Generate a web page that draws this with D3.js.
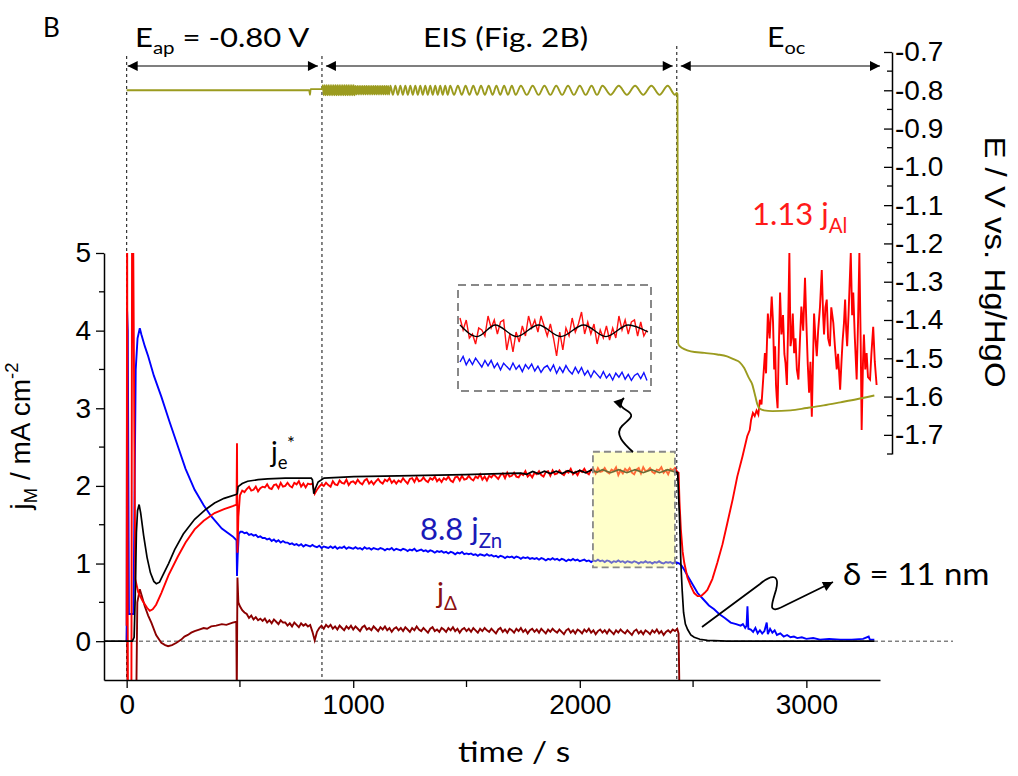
<!DOCTYPE html>
<html><head><meta charset="utf-8">
<script src="https://cdn.jsdelivr.net/npm/d3@7"></script>
<style>
html,body{margin:0;padding:0;background:#fff;}
svg{display:block;}
text{font-family:"Liberation Sans",Arial,sans-serif;}
.cal{font-family:Lato,"Open Sans",sans-serif;}
</style></head><body>
<svg id="chart" width="1018" height="776"></svg>
<script>
// ---------------- DATA ----------------
const xTicks = [0, 1000, 2000, 3000];
const xMinor = [500, 1500, 2500];
const yTicks = [0, 1, 2, 3, 4, 5];
const yMinor = [0.5, 1.5, 2.5, 3.5, 4.5];
const eTicks = [-0.7, -0.8, -0.9, -1.0, -1.1, -1.2, -1.3, -1.4, -1.5, -1.6, -1.7];
const eMinor = [-0.75, -0.85, -0.95, -1.05, -1.15, -1.25, -1.35, -1.45, -1.55, -1.65, -1.75];
const phaseBounds = [0, 862, 2428, 3325];   // E_ap | EIS | E_oc

// j_e* (black)
const jeEarly = [[-100,0],[25,0],[33,0.05],[38,0.6],[43,1.4],[48,1.68],[55,1.76],[62,1.65],[75,1.36],[90,1.08],[105,0.88],[120,0.77],[131,0.74],[145,0.76],[160,0.85],[185,1.0],[212,1.18],[250,1.38],[300,1.57],[350,1.7],[388,1.78],[430,1.84],[483,1.89],[488,1.9],[492,1.99],[510,2.03],[534,2.06],[580,2.08],[622,2.09],[700,2.1],[815,2.1],[820,2.08],[826,1.9],[832,1.96],[845,2.05],[871,2.1],[1003,2.12],[1200,2.13],[1494,2.145],[1740,2.165]];
const jeEis = [[1766,2.15],[1792,2.185],[1818,2.155],[1844,2.19],[1870,2.16],[1896,2.19],[1922,2.16],[1948,2.195],[1974,2.165],[2000,2.2],[2026,2.17],[2052,2.205],[2076,2.175],[2100,2.21],[2136,2.17],[2172,2.21],[2208,2.17],[2244,2.21],[2280,2.17],[2316,2.21],[2352,2.17],[2388,2.21],[2420,2.18]];
const jeLate = [[2432,2.17],[2440,1.6],[2446,1.01],[2452,0.65],[2458,0.37],[2466,0.22],[2476,0.15],[2490,0.08],[2505,0.05],[2530,0.025],[2563,0.01],[2650,0],[3300,0]];

// 1.13 j_Al (red)
const alEarly = [[0,0.2],[2,5.6],[5,-0.7],[21,-0.7],[24,5.6],[28,5.6],[38,0.8],[51,0.63],[70,0.52],[90,0.43],[102,0.39],[115,0.41],[130,0.47],[153,0.62],[185,0.85],[226,1.09],[260,1.27],[300,1.44],[340,1.55],[388,1.65],[430,1.7],[468,1.74],[485,1.76],[487,2.55],[489,1.14],[493,1.6],[500,1.88]];
const alEapT0 = 510, alEapDt = 10;
const alEap = [1.94,1.92,1.96,1.99,1.94,1.95,1.99,1.93,1.97,1.99,
1.98,2.02,1.97,1.96,2.01,2.02,1.97,2.04,1.99,2.00,
2.04,2.00,1.98,2.04,2.02,2.06,1.99,2.03,1.98,2.03,
2.02,2.03,1.90,1.95,1.99,2.02,2.00,2.04,2.01,1.99,
2.06,2.02,2.01,2.07,2.04,2.03,2.08,2.01,2.05,2.06,
2.03,2.08,2.04,2.02,2.07,2.09,2.03,2.06,2.02,2.06,
2.09,2.05,2.03,2.08,2.06,2.10,2.04,2.07,2.03,2.07,
2.05,2.10,2.06,2.03,2.09,2.10,2.05,2.11,2.06,2.07,
2.11,2.07,2.05,2.10,2.08,2.12,2.06,2.09,2.05,2.10,
2.08,2.12,2.07,2.05,2.11,2.12,2.07,2.13,2.08,2.09,
2.13,2.09,2.07,2.12,2.10,2.15,2.08,2.12,2.07,2.13,
2.11,2.15,2.12,2.09,2.14,2.16,2.10,2.17,2.12,2.13,
2.17,2.12,2.11,2.16,2.14,2.19,2.12,2.15,2.11,2.17,
2.15,2.19,2.14,2.12,2.18,2.19,2.13,2.20,2.15,2.16,
2.20,2.16,2.14,2.19,2.17,2.22,2.15,2.18,2.14,2.20,
2.18,2.22,2.17,2.15,2.21,2.22,2.16,2.23,2.18,2.19,
2.23,2.18,2.16,2.21,2.19,2.24,2.14,2.20,2.16,2.22,
2.19,2.23,2.17,2.15,2.21,2.23,2.16,2.24,2.19,2.20,
2.23,2.18,2.16,2.21,2.20,2.24,2.17,2.20,2.15,2.22,
2.20,2.23,2.18];
const alDrop = [[2436,2.17],[2440,1.8],[2446,1.44],[2454,1.15],[2461,1.01],[2475,0.82],[2490,0.71],[2505,0.62],[2520,0.58],[2535,0.58],[2550,0.62],[2563,0.66],[2585,0.8],[2607,1.01],[2630,1.25],[2651,1.52],[2675,1.83],[2695,2.12],[2718,2.38],[2739,2.64],[2750,2.72],[2756,2.85]];
const alOcp = [[2764,2.94],[2772,2.9],[2780,2.97],[2788,2.92],[2795,3.11],[2802,3.05],[2810,3.4],[2817,3.71],[2822,3.45],[2830,4.22],[2838,3.9],[2847,4.44],[2853,4.1],[2858,3.5],[2862,3.8],[2866,3.3],[2869,3.15],[2873,3.0],[2877,3.6],[2884,4.49],[2890,3.95],[2897,4.2],[2903,3.7],[2908,3.58],[2914,3.3],[2919,4.0],[2925,5.0],[2930,3.8],[2935,3.9],[2940,4.22],[2946,3.71],[2952,3.9],[2958,3.5],[2965,3.37],[2972,3.9],[2978,4.31],[2986,4.0],[2994,4.68],[3000,4.1],[3006,3.58],[3012,3.2],[3018,3.6],[3024,2.89],[3030,3.7],[3034,4.22],[3040,3.9],[3046,3.67],[3052,4.0],[3060,4.3],[3068,4.78],[3074,4.2],[3078,3.95],[3084,4.3],[3090,4.4],[3096,3.9],[3104,3.8],[3110,4.3],[3119,4.1],[3126,3.8],[3134,3.5],[3140,3.7],[3149,3.24],[3155,3.6],[3160,3.87],[3166,4.1],[3171,4.4],[3176,4.0],[3180,3.8],[3186,4.2],[3196,5.0],[3202,4.2],[3207,4.49],[3214,3.9],[3222,3.37],[3228,4.1],[3234,5.0],[3240,3.8],[3244,2.72],[3250,3.6],[3254,3.95],[3260,3.5],[3266,3.71],[3272,3.4],[3281,3.37],[3287,3.7],[3295,4.05],[3302,3.6],[3310,3.3]];

// 8.8 j_Zn (blue)
const znEarly = [[0,0],[2,4.25],[5,4.0],[10,0.35],[30,0.35],[40,3.5],[48,3.9],[58,4.03],[65,3.95],[80,3.8],[95,3.67],[120,3.42],[153,3.15],[190,2.82],[226,2.51],[260,2.22],[300,1.95],[340,1.75],[373,1.61],[420,1.45],[468,1.35],[485,1.3],[487,0.84],[490,1.1],[495,1.38],[502,1.41]];
const znEapT0 = 510, znEapDt = 10;
const znEap = [1.41,1.39,1.40,1.37,1.38,1.36,1.37,1.34,1.35,1.33,
1.33,1.31,1.32,1.29,1.31,1.28,1.30,1.27,1.29,1.27,
1.27,1.25,1.26,1.24,1.25,1.23,1.25,1.22,1.24,1.23,
1.22,1.24,1.22,1.21,1.23,1.20,1.22,1.21,1.20,1.22,
1.20,1.22,1.19,1.21,1.20,1.22,1.19,1.21,1.20,1.19,
1.21,1.19,1.20,1.18,1.21,1.19,1.20,1.18,1.20,1.19,
1.18,1.20,1.19,1.17,1.19,1.18,1.20,1.17,1.19,1.18,
1.17,1.19,1.18,1.16,1.18,1.17,1.19,1.16,1.17,1.18,
1.16,1.17,1.15,1.17,1.16,1.14,1.16,1.15,1.16,1.14,
1.15,1.13,1.15,1.14,1.12,1.14,1.13,1.15,1.12,1.13,
1.12,1.13,1.11,1.12,1.10,1.12,1.11,1.10,1.12,1.10,
1.11,1.09,1.10,1.08,1.10,1.09,1.07,1.09,1.08,1.09,
1.07,1.09,1.08,1.06,1.08,1.07,1.08,1.06,1.07,1.06,
1.07,1.05,1.07,1.06,1.04,1.06,1.05,1.07,1.05,1.06,
1.04,1.06,1.05,1.03,1.05,1.04,1.06,1.04,1.05,1.03,
1.04,1.05,1.03,1.04,1.02,1.04,1.03,1.05,1.03,1.04,
1.02,1.04,1.03,1.01,1.03,1.02,1.04,1.02,1.03,1.01,
1.03,1.02,1.01,1.03,1.02,1.00,1.02,1.01,1.03,1.01,
1.02,1.00,1.02,1.01,1.03,1.01,1.00,1.02,1.01,1.02,
1.00,1.02,1.01];
const znOcp = [[2440,1.0],[2450,0.97],[2461,0.92],[2480,0.82],[2500,0.72],[2520,0.62],[2545,0.54],[2570,0.46],[2593,0.41],[2615,0.35],[2640,0.3],[2666,0.24],[2690,0.22],[2710,0.2],[2720,0.22],[2730,0.17],[2736,0.2],[2740,0.45],[2744,0.16],[2755,0.15],[2765,0.12],[2775,0.17],[2785,0.1],[2795,0.14],[2805,0.1],[2815,0.13],[2825,0.24],[2830,0.09],[2840,0.16],[2850,0.11],[2860,0.14],[2870,0.08],[2885,0.1],[2900,0.06],[2915,0.08],[2930,0.05],[2945,0.06],[2960,0.04],[2980,0.05],[3000,0.03],[3030,0.04],[3060,0.02],[3100,0.03],[3150,0.02],[3200,0.02],[3250,0.03],[3275,0.06],[3280,0.02],[3300,0.02]];

// j_Delta (dark red)
const jdEarly = [[0,0],[2,0.3],[4,-0.7],[40,-0.7],[43,-0.6],[47,0.5],[55,0.62],[58,0.67],[65,0.6],[80,0.45],[95,0.33],[109,0.24],[130,0.08],[153,-0.02],[170,-0.05],[183,-0.065],[200,-0.05],[220,-0.02],[241,0.02],[255,0.06],[270,0.08],[285,0.11],[300,0.13],[320,0.15],[340,0.17],[355,0.16],[373,0.19],[395,0.2],[420,0.22],[440,0.21],[468,0.24],[484,0.25],[486,-0.7],[489,0.82],[493,0.5]];
const jdEapT0 = 500, jdEapDt = 10;
const jdEap = [0.45,0.40,0.37,0.35,0.30,0.33,0.28,0.31,0.27,0.29,
0.26,0.29,0.24,0.27,0.23,0.28,0.25,0.22,0.27,0.24,
0.24,0.20,0.23,0.19,0.24,0.21,0.18,0.23,0.20,0.22,
0.19,0.21,0.12,0.01,0.12,0.17,0.20,0.16,0.21,0.18,
0.21,0.16,0.19,0.15,0.20,0.17,0.14,0.19,0.16,0.20,
0.15,0.19,0.16,0.13,0.18,0.20,0.15,0.17,0.14,0.19,
0.16,0.13,0.18,0.15,0.19,0.14,0.17,0.12,0.16,0.18,
0.14,0.17,0.13,0.18,0.15,0.12,0.17,0.14,0.19,0.15,
0.13,0.17,0.14,0.11,0.16,0.18,0.13,0.15,0.12,0.17,
0.15,0.12,0.17,0.14,0.18,0.13,0.16,0.11,0.15,0.17,
0.13,0.16,0.12,0.17,0.14,0.11,0.16,0.13,0.17,0.14,
0.12,0.16,0.13,0.10,0.15,0.17,0.12,0.15,0.11,0.16,
0.14,0.11,0.16,0.13,0.17,0.12,0.15,0.10,0.14,0.16,
0.12,0.15,0.11,0.16,0.13,0.10,0.15,0.12,0.16,0.13,
0.11,0.15,0.12,0.09,0.14,0.16,0.11,0.14,0.10,0.15,
0.13,0.10,0.15,0.12,0.16,0.11,0.14,0.09,0.13,0.15,
0.11,0.14,0.10,0.15,0.12,0.09,0.14,0.11,0.15,0.12,
0.10,0.14,0.11,0.08,0.13,0.15,0.10,0.13,0.09,0.14,
0.12,0.09,0.14,0.11,0.15,0.10,0.13,0.08,0.12,0.14,
0.11,0.15,0.13,0.16];
const jdLate = [[2436,0.1],[2440,-0.7]];

// Potential E (olive, right axis)
const eApplied = [[0,-0.8],[806,-0.8],[809,-0.812],[812,-0.797],[862,-0.797]];
const eEisFastT0 = 866, eEisFastDt = 4;
const eEisFast = [-0.787,-0.813,-0.787,-0.813,-0.787,-0.813,-0.787,-0.813,-0.787,-0.813,
-0.787,-0.813,-0.787,-0.813,-0.787,-0.813,-0.787,-0.813,-0.787,-0.813,
-0.787,-0.813,-0.787,-0.813,-0.787,-0.813,-0.787,-0.813,-0.787,-0.813,
-0.787,-0.813,-0.787,-0.813,-0.787,-0.813,-0.789,-0.811,-0.789,-0.811,
-0.789,-0.811,-0.789,-0.811,-0.789,-0.811,-0.789,-0.811,-0.789,-0.811,
-0.789,-0.811,-0.789,-0.811,-0.789,-0.811,-0.789,-0.811,-0.789,-0.811,
-0.789,-0.811,-0.789,-0.811,-0.789,-0.811,-0.789,-0.811,-0.789,-0.811,
-0.789,-0.811,-0.789,-0.811];
const eEisSlow = [[1164,-0.788],[1175,-0.812],[1186,-0.788],[1197,-0.812],[1208,-0.788],[1219,-0.812],[1230,-0.788],[1241,-0.812],[1252,-0.788],[1263,-0.812],[1274,-0.788],[1285,-0.812],[1296,-0.788],[1307,-0.812],[1318,-0.788],[1329,-0.812],[1340,-0.788],[1351,-0.812],[1362,-0.788],[1373,-0.812],[1384,-0.788],[1395,-0.812],[1406,-0.788],[1417,-0.812],
[1428,-0.788],[1445,-0.812],[1462,-0.788],[1479,-0.812],[1496,-0.788],[1513,-0.812],[1530,-0.788],[1547,-0.812],[1564,-0.788],[1581,-0.812],[1598,-0.788],[1615,-0.812],[1632,-0.788],[1649,-0.812],[1666,-0.788],[1683,-0.812],[1700,-0.788],[1717,-0.812],
[1740,-0.788],[1766,-0.812],[1792,-0.788],[1818,-0.812],[1844,-0.788],[1870,-0.812],[1896,-0.788],[1922,-0.812],[1948,-0.788],[1974,-0.812],[2000,-0.788],[2026,-0.812],[2052,-0.788],[2076,-0.812],
[2100,-0.788],[2136,-0.812],[2172,-0.788],[2208,-0.812],[2244,-0.788],[2280,-0.812],[2316,-0.788],[2352,-0.812],[2388,-0.788],[2420,-0.812]];
const eOcp = [[2428,-0.807],[2431,-0.81],[2434,-1.46],[2440,-1.468],[2490,-1.482],[2550,-1.486],[2607,-1.49],[2650,-1.495],[2681,-1.503],[2705,-1.51],[2725,-1.525],[2745,-1.55],[2761,-1.568],[2775,-1.6],[2783,-1.619],[2795,-1.632],[2813,-1.636],[2850,-1.638],[2930,-1.636],[3000,-1.63],[3076,-1.623],[3150,-1.615],[3222,-1.607],[3300,-1.597]];

// zoom box and inset
const boxT = [2058, 2420], boxJ = [0.95, 2.44];
const insetT0 = 2058, insetDt = 6;
const insetAl = [2.26,2.20,2.25,2.16,2.18,2.13,2.21,2.20,2.17,2.27,2.21,2.25,2.18,2.24,2.25,2.10,2.18,2.09,2.19,2.14,2.22,2.17,2.27,2.21,2.25,2.19,2.27,2.22,2.17,2.23,2.16,2.07,2.19,2.10,2.21,2.17,2.26,2.19,2.23,2.29,2.18,2.24,2.18,2.23,2.13,2.20,2.16,2.22,2.15,2.21,2.16,2.27,2.20,2.25,2.18,2.24,2.25,2.17,2.24,2.17,2.20];
const insetZn = [1.070,1.098,1.056,1.084,1.057,1.089,1.067,1.045,1.078,1.051,1.078,1.041,1.064,1.031,1.064,1.047,1.031,1.065,1.034,1.053,1.022,1.057,1.036,1.060,1.025,1.049,1.018,1.042,1.052,1.026,1.055,1.014,1.044,1.018,1.052,1.026,1.010,1.043,1.015,1.042,1.005,1.027,0.994,1.026,1.008,0.990,1.022,0.990,1.010,0.980,1.014,0.994,1.019,0.984,1.008,0.978,1.003,1.013,0.987,1.017,0.977];
const insetJe = [[2058,2.225],[2091,2.167],[2126,2.225],[2167,2.167],[2209,2.225],[2252,2.167],[2296,2.225],[2339,2.167],[2382,2.225],[2420,2.19]];

// ---------------- CHART ----------------
const svg = d3.select("#chart");
const fmtLoc = d3.formatLocale({decimal: ".", thousands: ",", grouping: [3], currency: ["", ""], minus: "-"});
const x = d3.scaleLinear().domain([-100, 3325]).range([104, 880]);
const yL = d3.scaleLinear().domain([-0.5, 5]).range([680, 253]);
const yR = d3.scaleLinear().domain([-1.75, -0.7]).range([454, 52]);
const xIn = d3.scaleLinear().domain(boxT).range([460, 648]);
const yInAl = d3.scaleLinear().domain([2.1, 2.3]).range([350, 310]);
const yInZn = d3.scaleLinear().domain([0.95, 1.10]).range([386, 356]);

const seq = (t0, dt, vals) => vals.map((v, i) => [t0 + i * dt, v]);

const defs = svg.append("defs");
defs.append("clipPath").attr("id", "plotclip").append("rect")
  .attr("x", 104).attr("y", 253).attr("width", 776).attr("height", 427);
defs.append("marker").attr("id", "ah").attr("viewBox", "0 0 10 10")
  .attr("refX", 10).attr("refY", 5).attr("markerUnits", "userSpaceOnUse")
  .attr("markerWidth", 13).attr("markerHeight", 10).attr("orient", "auto-start-reverse")
  .append("path").attr("d", "M0,0 L10,5 L0,10 z").attr("fill", "#000");

// zero dashed line
svg.append("line").attr("x1", x(-100)).attr("x2", 953).attr("y1", yL(0)).attr("y2", yL(0))
  .attr("stroke", "#444").attr("stroke-width", 1).attr("stroke-dasharray", "4,3");

// vertical dotted phase lines
phaseBounds.slice(0, 3).forEach((t, i) => {
  svg.append("line").attr("x1", x(t)).attr("x2", x(t)).attr("y1", i === 2 ? 46 : 56).attr("y2", 680)
    .attr("stroke", "#222").attr("stroke-width", 1.1).attr("stroke-dasharray", "3,3");
});

// curves
const lineL = d3.line().x(d => x(d[0])).y(d => yL(d[1]));
const lineR = d3.line().x(d => x(d[0])).y(d => yR(d[1])).curve(d3.curveMonotoneX);
const plot = svg.append("g").attr("clip-path", "url(#plotclip)");

const jd = jdEarly.concat(seq(jdEapT0, jdEapDt, jdEap), jdLate);
const zn = znEarly.concat(seq(znEapT0, znEapDt, znEap), znOcp);
const al = alEarly.concat(seq(alEapT0, alEapDt, alEap), alDrop, alOcp);
const je = jeEarly.concat(jeEis, jeLate);

plot.append("path").attr("d", lineL(jd)).attr("fill", "none").attr("stroke", "#8b0000").attr("stroke-width", 1.9);
plot.append("path").attr("d", lineL(zn)).attr("fill", "none").attr("stroke", "#0000ff").attr("stroke-width", 1.9);
plot.append("path").attr("d", lineL(al)).attr("fill", "none").attr("stroke", "#ff0000").attr("stroke-width", 1.9);
plot.append("path").attr("d", lineL(je)).attr("fill", "none").attr("stroke", "#000").attr("stroke-width", 1.7);

const eAll = eApplied.concat(seq(eEisFastT0, eEisFastDt, eEisFast), eEisSlow, eOcp);
svg.append("path").attr("d", lineR(eAll)).attr("fill", "none").attr("stroke", "#9b9b1f").attr("stroke-width", 1.9);

// yellow zoom box (overlay)
svg.append("rect").attr("x", x(boxT[0])).attr("y", yL(boxJ[1]))
  .attr("width", x(boxT[1]) - x(boxT[0])).attr("height", yL(boxJ[0]) - yL(boxJ[1]))
  .attr("fill", "#ffff80").attr("fill-opacity", 0.42)
  .attr("stroke", "#888").attr("stroke-width", 1.8).attr("stroke-dasharray", "7,4");

// inset
svg.append("rect").attr("x", 458).attr("y", 285).attr("width", 193).attr("height", 106)
  .attr("fill", "none").attr("stroke", "#888").attr("stroke-width", 2).attr("stroke-dasharray", "8,5");
const inAlLine = d3.line().x(d => xIn(d[0])).y(d => yInAl(d[1]));
const inZnLine = d3.line().x(d => xIn(d[0])).y(d => yInZn(d[1]));
svg.append("path").attr("d", inAlLine(seq(insetT0, insetDt, insetAl))).attr("fill", "none").attr("stroke", "#ff1010").attr("stroke-width", 1.4);
svg.append("path").attr("d", inZnLine(seq(insetT0, insetDt, insetZn))).attr("fill", "none").attr("stroke", "#1010ff").attr("stroke-width", 1.4);
svg.append("path").attr("d", inAlLine.curve(d3.curveMonotoneX)(insetJe)).attr("fill", "none").attr("stroke", "#000").attr("stroke-width", 1.3);

// squiggle arrows
svg.append("path").attr("d", "M633,452 C624,444 614,434 622,426 C630,418 636,416 626,410 C618,405 620,402 624,398")
  .attr("fill", "none").attr("stroke", "#000").attr("stroke-width", 1.8).attr("marker-end", "url(#ah)");
svg.append("path").attr("d", "M702,627 L760,584 C772,574 780,574 776,590 C772,604 766,616 786,605 L833,582")
  .attr("fill", "none").attr("stroke", "#000").attr("stroke-width", 1.8).attr("marker-end", "url(#ah)");

// top double arrows
for (let i = 0; i < 3; i++) {
  const x1 = x(phaseBounds[i]) + (i === 0 ? 1 : 4), x2 = x(phaseBounds[i + 1]) - (i === 2 ? 0 : 4);
  svg.append("line").attr("x1", x1).attr("x2", x2).attr("y1", 66).attr("y2", 66)
    .attr("stroke", "#555").attr("stroke-width", 1.5)
    .attr("marker-start", "url(#ah)").attr("marker-end", "url(#ah)");
}

// axes
const axL = svg.append("g").attr("transform", "translate(104,0)")
  .call(d3.axisLeft(yL).tickValues(yTicks).tickSize(8).tickSizeOuter(0).tickPadding(5).tickFormat(d3.format("d")));
axL.append("g").selectAll("line").data(yMinor).join("line")
  .attr("x1", 0).attr("x2", -5).attr("y1", d => yL(d)).attr("y2", d => yL(d)).attr("stroke", "#000");
const axB = svg.append("g").attr("transform", "translate(0,680)")
  .call(d3.axisBottom(x).tickValues(xTicks).tickSize(8).tickSizeOuter(0).tickPadding(6).tickFormat(d3.format("d")));
axB.append("g").selectAll("line").data(xMinor).join("line")
  .attr("y1", 0).attr("y2", 7).attr("x1", d => x(d)).attr("x2", d => x(d)).attr("stroke", "#000");
const axR = svg.append("g").attr("transform", "translate(892,0)")
  .call(d3.axisRight(yR).tickValues(eTicks).tickSizeInner(-8).tickSizeOuter(0).tickPadding(3).tickFormat(fmtLoc.format(".1f")));
axR.append("g").selectAll("line").data(eMinor).join("line")
  .attr("x1", 0).attr("x2", -5).attr("y1", d => yR(d)).attr("y2", d => yR(d)).attr("stroke", "#000");
[axL, axB, axR].forEach(a => {
  a.selectAll(".domain").attr("stroke", "#000").attr("stroke-width", 1.5);
  a.selectAll("line").attr("stroke-width", 1.3);
  a.selectAll("text").style("font-family", '"Liberation Sans",Arial,sans-serif').style("font-size", "28px").style("fill", "#000");
});

// rich text helper (x/y via transform, optional horizontal stretch)
function rich(parts, size, opt) {
  const t = svg.append("text").attr("class", opt.cls || null)
    .attr("transform", `translate(${opt.x},${opt.y}) rotate(${opt.rot || 0}) scale(${opt.sx || 1},1)`)
    .attr("text-anchor", opt.anchor || "start")
    .style("font-size", size + "px").style("fill", opt.fill || "#000");
  let shift = 0;
  parts.forEach(p => {
    const target = p.sub ? 0.25 * size : (p.sup ? -0.42 * size : 0);
    const ts = t.append("tspan").text(p.t).attr("dy", target - shift);
    if (p.sub || p.sup) ts.style("font-size", (0.66 * size) + "px");
    shift = target;
  });
  return t;
}

rich([{t: "B"}], 26, {x: 43, y: 37, cls: "cal"});
rich([{t: "E"}, {t: "ap", sub: true}, {t: " = -0.80 V"}], 27, {x: 135, y: 47, sx: 1.15, cls: "cal"});
rich([{t: "EIS (Fig. 2B)"}], 27, {x: 423, y: 47, sx: 1.17, cls: "cal"});
rich([{t: "E"}, {t: "oc", sub: true}], 27, {x: 767, y: 47, sx: 1.12, cls: "cal"});
rich([{t: "j"}, {t: "e", sub: true}, {t: "*", sup: true}], 28, {x: 271, y: 462, cls: "cal"});
rich([{t: "8.8 j"}, {t: "Zn", sub: true}], 31, {x: 420, y: 540, fill: "#1a1ab8", cls: "cal"});
rich([{t: "j"}, {t: "Δ", sub: true}], 29, {x: 437, y: 603, fill: "#8b1010", cls: "cal"});
rich([{t: "1.13 j"}, {t: "Al", sub: true}], 31, {x: 752, y: 225, fill: "#ff1a1a", cls: "cal"});
rich([{t: "δ = 11 nm"}], 30, {x: 843, y: 585, sx: 1.1, cls: "cal"});
rich([{t: "time / s"}], 29, {x: 514, y: 762, sx: 1.15, anchor: "middle", cls: "cal"});
rich([{t: "j"}, {t: "M", sub: true}, {t: " / mA cm"}, {t: "-2", sup: true}], 28,
  {x: 30, y: 436, rot: -90, anchor: "middle"});
rich([{t: "E / V vs. Hg/HgO"}], 30, {x: 985, y: 262, rot: 90, sx: 1.1, anchor: "middle"});
</script>
</body></html>
